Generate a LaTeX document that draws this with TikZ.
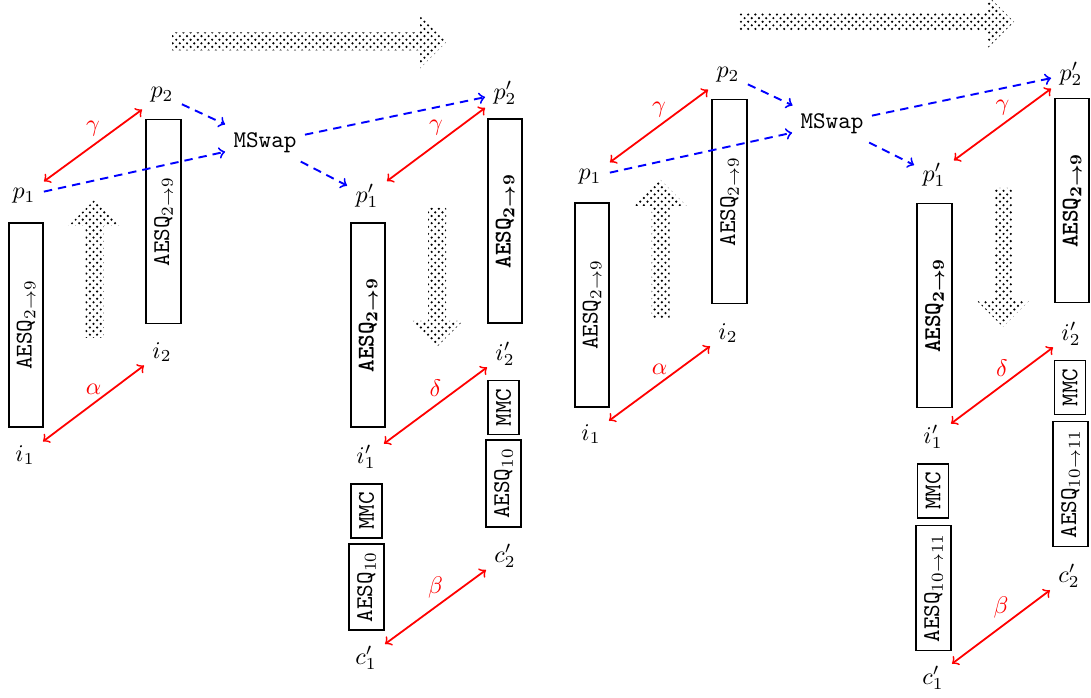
\documentclass[tikz,border=0pt]{standalone}
\usetikzlibrary{patterns}
\begin{document}
\begin{tikzpicture}[x=0.417pt,y=-0.417pt,
  lbl/.style={inner sep=0.3333em},
  box/.style={draw, line width=0.7pt, rotate=90, font=\ttfamily},
  longbox/.style={box, minimum width=85pt, minimum height=14.4pt},
  boldbox/.style={longbox, font=\ttfamily\bfseries},
  redarr/.style={red, line width=0.75pt, <->},
  redlbl/.style={red, midway, above},
  bluearr/.style={blue, line width=0.8pt, dash pattern=on 3.5pt off 2.5pt, ->},
  harrow/.pic={\fill[pattern=crosshatch dots] (0,-9) -- (248,-9) -- (248,-27) -- (275,0) -- (248,27) -- (248,9) -- (0,9) -- cycle;},
  uparrow/.pic={\fill[pattern=crosshatch dots] (-9,0) -- (-9,-112) -- (-26,-112) -- (0,-138) -- (26,-112) -- (9,-112) -- (9,0) -- cycle;},
  downarrow/.pic={\fill[pattern=crosshatch dots] (-9,0) -- (-9,113) -- (-26,113) -- (0,139) -- (26,113) -- (9,113) -- (9,0) -- cycle;}
]
\useasboundingbox (0,0) rectangle (1091,698);
\clip (0,0) rectangle (1091,698);

% ---------------- left diagram ----------------
\pic at (172,41.5) {harrow};
\pic at (94.5,338) {uparrow};
\pic at (437,208) {downarrow};

\node[longbox] (L-b1) at (26,325) {AESQ$_{2\to9}$};
\node[longbox] (L-b2) at (163.5,221.5) {AESQ$_{2\to9}$};
\node[boldbox] (L-b3) at (368,325) {AESQ{\boldmath$_{2\to9}$}};
\node[boldbox] (L-b4) at (505,221) {AESQ{\boldmath$_{2\to9}$}};
\node[box] (L-m2) at (503.5,407.5) {MMC};
\node[box] (L-a2) at (503.5,483.5) {AESQ$_{10}$};
\node[box] (L-m1) at (366.5,511) {MMC};
\node[box] (L-a1) at (366.5,587) {AESQ$_{10}$};

\node[lbl] (L-p1) at (24,196) {$p_1$};
\node[lbl] (L-p2) at (162,95) {$p_2$};
\node[lbl,font=\ttfamily] (L-ms) at (265,143) {MSwap};
\node[lbl] (L-pp1) at (367,196) {$p'_1$};
\node[lbl] (L-pp2) at (505,93) {$p'_2$};
\node[lbl] (L-i1) at (25,455) {$i_1$};
\node[lbl] (L-i2) at (162,352) {$i_2$};
\node[lbl] (L-ii1) at (366,457) {$i'_1$};
\node[lbl] (L-ii2) at (505,354) {$i'_2$};
\node[lbl] (L-cc1) at (366,658) {$c'_1$};
\node[lbl] (L-cc2) at (505,556) {$c'_2$};

\draw[redarr] (L-p1) -- node[redlbl] {$\gamma$} (L-p2);
\draw[redarr] (L-i1) -- node[redlbl] {$\alpha$} (L-i2);
\draw[redarr] (L-pp1) -- node[redlbl] {$\gamma$} (L-pp2);
\draw[redarr] (L-ii1) -- node[redlbl] {$\delta$} (L-ii2);
\draw[redarr] (L-cc1) -- node[redlbl] {$\beta$} (L-cc2);

\draw[bluearr] (L-p1) -- (L-ms);
\draw[bluearr] (L-p2) -- (L-ms);
\draw[bluearr] (L-ms) -- (L-pp1);
\draw[bluearr] (L-ms) -- (L-pp2);

% ---------------- right diagram ----------------
\pic at (739,22) {harrow};
\pic at (660.5,318) {uparrow};
\pic at (1003,188) {downarrow};

\node[longbox] (R-b1) at (592,305) {AESQ$_{2\to9}$};
\node[longbox] (R-b2) at (729.5,201.5) {AESQ$_{2\to9}$};
\node[boldbox] (R-b3) at (934.5,305.5) {AESQ{\boldmath$_{2\to9}$}};
\node[boldbox] (R-b4) at (1072,200.5) {AESQ{\boldmath$_{2\to9}$}};
\node[box] (R-m2) at (1070,387.5) {MMC};
\node[box] (R-a2) at (1070.5,484) {AESQ$_{10\to11}$};
\node[box] (R-m1) at (933,491) {MMC};
\node[box] (R-a1) at (933.5,588) {AESQ$_{10\to11}$};

\node[lbl] (R-p1) at (590,177) {$p_1$};
\node[lbl] (R-p2) at (728,75) {$p_2$};
\node[lbl,font=\ttfamily] (R-ms) at (832,124) {MSwap};
\node[lbl] (R-pp1) at (934,175) {$p'_1$};
\node[lbl] (R-pp2) at (1071,74) {$p'_2$};
\node[lbl] (R-i1) at (591,434) {$i_1$};
\node[lbl] (R-i2) at (728,333) {$i_2$};
\node[lbl] (R-ii1) at (933,437) {$i'_1$};
\node[lbl] (R-ii2) at (1071,334) {$i'_2$};
\node[lbl] (R-cc1) at (933,678) {$c'_1$};
\node[lbl] (R-cc2) at (1069,576) {$c'_2$};

\draw[redarr] (R-p1) -- node[redlbl] {$\gamma$} (R-p2);
\draw[redarr] (R-i1) -- node[redlbl] {$\alpha$} (R-i2);
\draw[redarr] (R-pp1) -- node[redlbl] {$\gamma$} (R-pp2);
\draw[redarr] (R-ii1) -- node[redlbl] {$\delta$} (R-ii2);
\draw[redarr] (R-cc1) -- node[redlbl] {$\beta$} (R-cc2);

\draw[bluearr] (R-p1) -- (R-ms);
\draw[bluearr] (R-p2) -- (R-ms);
\draw[bluearr] (R-ms) -- (R-pp1);
\draw[bluearr] (R-ms) -- (R-pp2);
\end{tikzpicture}
\end{document}
